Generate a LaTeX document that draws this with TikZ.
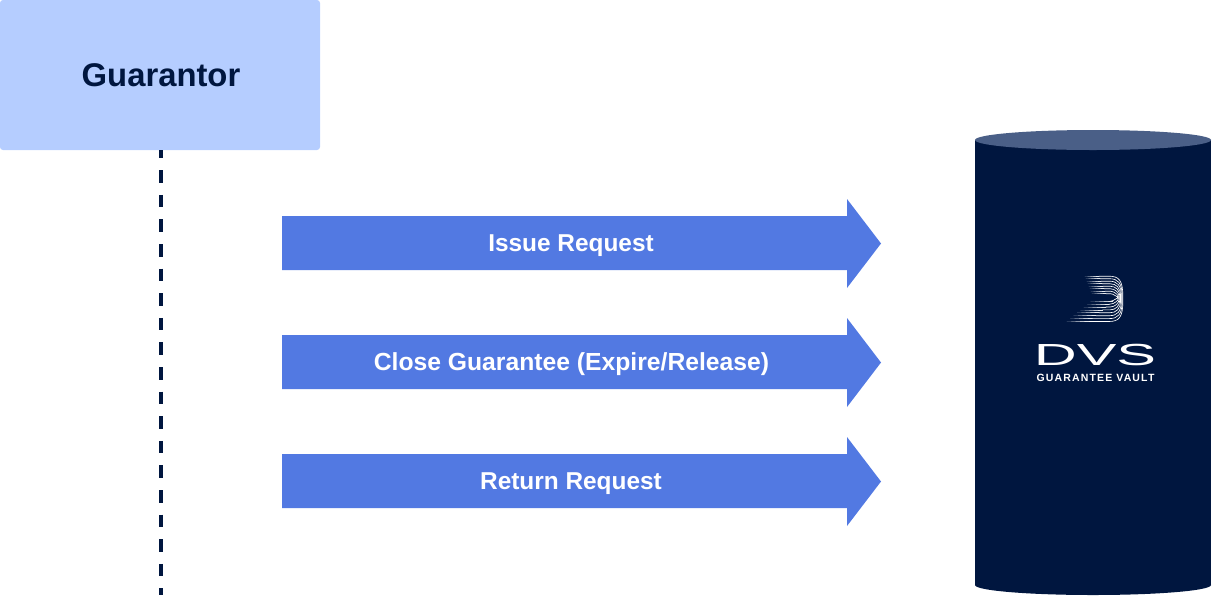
\documentclass[tikz,border=0pt]{standalone}
\usepackage{fontspec}
\setmainfont{Liberation Sans}
\definecolor{navy}{HTML}{00163F}
\definecolor{boxblue}{HTML}{B5CDFF}
\definecolor{arrowblue}{HTML}{5279E2}
\definecolor{captop}{HTML}{4A5F87}
\tikzset{
  partybox/.style={fill=boxblue,rounded corners=3pt,minimum width=320pt,minimum height=150pt,inner sep=0pt,text=navy},
  lifeline/.style={draw=navy,line width=4pt,dash pattern=on 12.6pt off 12pt,dash phase=4.6pt},
  flowarrow/.style={fill=arrowblue},
  flowlabel/.style={text=white,anchor=base,inner sep=0pt,font=\fontsize{24.4}{28}\bfseries\selectfont},
  vaultbody/.style={fill=navy},
  vaultcap/.style={fill=captop},
  strand/.style={line width=0.65pt,line cap=round},
  logoword/.style={text=white,anchor=base,inner sep=0pt}
}
\begin{document}
\begin{tikzpicture}[x=1pt,y=-1pt]
\useasboundingbox (0,0) rectangle (1212,595);
% Guarantor and its lifeline
\coordinate (lifeend) at (161,595);
\node[partybox] (guarantor) at (160,75) {\hspace{2pt}\raisebox{-1pt}{\fontsize{32.8}{36}\bfseries\selectfont Guarantor}};
\draw[lifeline] (guarantor.south -| lifeend) -- (lifeend);
% Arrows
\fill[flowarrow] (282,216) -- (847,216) -- (847,199) -- (881,243.5) -- (847,288) -- (847,270) -- (282,270) -- cycle;
\fill[flowarrow] (282,335) -- (847,335) -- (847,318) -- (881,362.5) -- (847,407) -- (847,389) -- (282,389) -- cycle;
\fill[flowarrow] (282,454) -- (847,454) -- (847,437) -- (881,481.5) -- (847,526) -- (847,508) -- (282,508) -- cycle;
\node[flowlabel] (issue) at (571,251) {Issue Request};
\node[flowlabel,font=\fontsize{24.7}{28}\bfseries\selectfont] (close) at (571.5,370) {Close Guarantee (Expire/Release)};
\node[flowlabel] (return) at (571,489) {Return Request};
% Vault
\fill[vaultbody] (975,140) rectangle (1211,585);
\fill[vaultbody] (1093,585) ellipse [x radius=118,y radius=10];
\fill[vaultcap] (1093,140) ellipse [x radius=118,y radius=10];
% Logo mark
\foreach \i in {0,...,7}{
  \pgfmathsetmacro{\yt}{276.2+\i*2.5}
  \pgfmathsetmacro{\yb}{321.5-\i*2.9}
  \pgfmathsetmacro{\xr}{1122.8-\i*0.75}
  \pgfmathsetmacro{\xlt}{1085+\i*1}
  \pgfmathsetmacro{\xlb}{1067+\i*3.4}
  \pgfmathsetmacro{\ym}{(\yt+\yb)/2}
  \draw[strand,white] (\xlt+14,\yt) -- (\xr-14+\i,\yt) .. controls (\xr-4,\yt) and (\xr,\yt+4) .. (\xr,\ym-3+\i*.3) -- (\xr,\ym+3-\i*.3) .. controls (\xr,\yb-4) and (\xr-4,\yb) .. (\xr-14+\i,\yb) -- (\xlb+22,\yb);
  \foreach \k/\p in {0/15,1/35,2/55,3/75,4/90}{
    \draw[strand,white!\p!navy] (\xlt+\k*2.8,\yt) -- (\xlt+\k*2.8+2.8,\yt);
    \draw[strand,white!\p!navy] (\xlb+\k*4.4,\yb) -- (\xlb+\k*4.4+4.4,\yb);
  }
}
% Logo words
\node[logoword] (dvs) at (1095,365) {\scalebox{1.95}[1]{\fontsize{30.5}{32}\selectfont DVS}};
\node[logoword] (vaultname) at (1095.5,381) {\addfontfeatures{LetterSpace=11}\fontsize{10.5}{12}\bfseries\selectfont GUARANTEE VAULT};
\end{tikzpicture}
\end{document}
